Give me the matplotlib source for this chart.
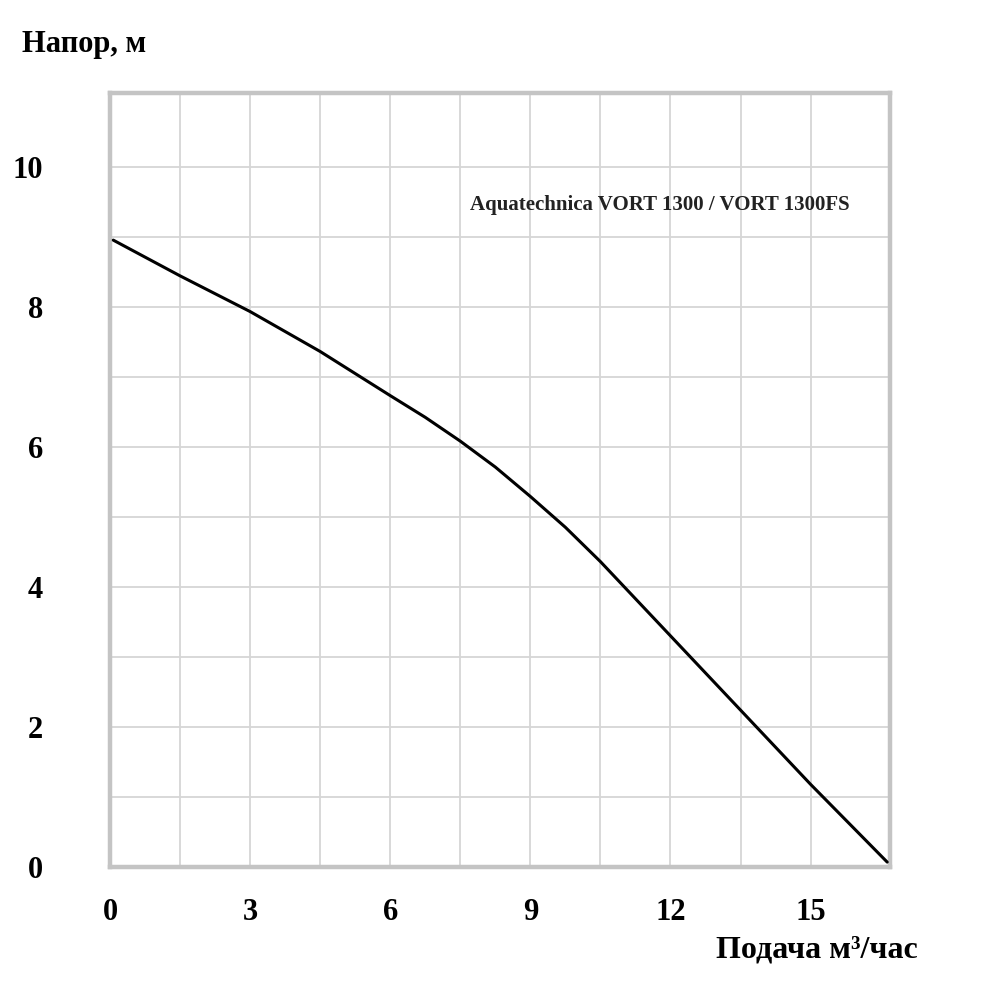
import matplotlib
matplotlib.use("Agg")
import matplotlib.pyplot as plt
import numpy as np

# Data
flow = [0.07, 1.5, 3.0, 4.5, 6.0, 6.75, 7.5, 8.25, 9.0, 9.75, 10.5, 12.0, 13.5, 15.0, 16.64]
head = [8.95, 8.44, 7.93, 7.36, 6.73, 6.42, 6.08, 5.71, 5.29, 4.85, 4.36, 3.30, 2.24, 1.18, 0.07]
x_ticks = [0, 3, 6, 9, 12, 15]
y_ticks = [0, 2, 4, 6, 8, 10]
x_label = "Подача м³/час"
y_label = "Напор, м"
model = "Aquatechnica VORT 1300 / VORT 1300FS"

plt.rcParams['font.family'] = ['Liberation Serif', 'DejaVu Serif']
plt.rcParams['font.weight'] = 'bold'

fig = plt.figure(figsize=(10, 9.93), dpi=100)
ax = fig.add_axes([0.11, 0.1269, 0.78, 0.7794])

ax.set_xlim(0, 16.7)
ax.set_ylim(0, 11.05)

# grid
for gx in np.arange(1.5, 15.1, 1.5):
    ax.axvline(gx, color='#d6d6d6', lw=1.3, zorder=1)
for gy in range(1, 11):
    ax.axhline(gy, color='#d6d6d6', lw=1.3, zorder=1)

ax.plot(flow, head, color='black', lw=2.2, zorder=3,
        solid_joinstyle='round', solid_capstyle='round')

for s in ax.spines.values():
    s.set_color('#c4c4c4')
    s.set_linewidth(3.2)

ax.set_xticks(x_ticks)
ax.set_yticks(y_ticks)
ax.set_xticklabels([str(v) for v in x_ticks], fontsize=22, fontweight='bold')
ax.set_yticklabels([str(v) for v in y_ticks], fontsize=22, fontweight='bold')
ax.tick_params(axis='both', length=0)
ax.tick_params(axis='x', pad=22)
ax.tick_params(axis='y', pad=48)

fig.text(0.022, 0.955, y_label, fontsize=22, fontweight='bold', ha='left', va='center')
fig.text(0.918, 0.043, x_label, fontsize=23, fontweight='bold', ha='right', va='center')
ax.text(0.47, (993 - 205) / 993, model, transform=fig.transFigure,
        fontsize=15, fontweight='bold', color='#222222', ha='left', va='center', zorder=4)

fig.savefig("out.png", dpi=100, facecolor='white')
